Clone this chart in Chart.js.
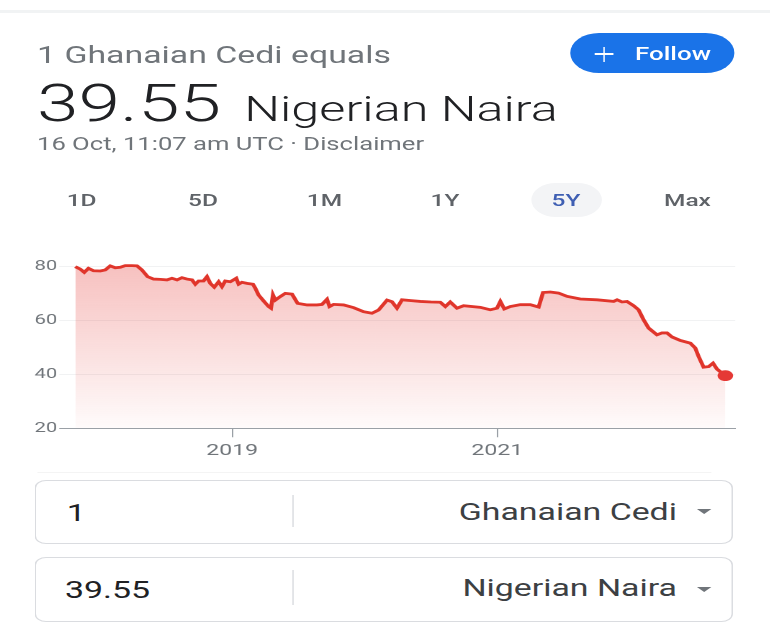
<!DOCTYPE html>
<html>
<head>
<meta charset="utf-8">
<script src="https://cdn.jsdelivr.net/npm/chart.js@4.4.1/dist/chart.umd.min.js"></script>
<style>
  html, body { margin: 0; padding: 0; background: #ffffff; overflow: hidden; }
  body { width: 770px; height: 632px; position: relative; font-family: Roboto, "Noto Sans", Arial, sans-serif; }
  #page { position: absolute; left: 0; top: 0; width: 534.7px; height: 632px; transform: scaleX(1.44); transform-origin: 0 0; }
  .a { position: absolute; white-space: nowrap; }
  .t { line-height: 1; }
  .tab { position: absolute; width: 60px; text-align: center; font-size: 17px; font-weight: 500; color: #5f6368; line-height: 1; top: 191.7px; }
  .box { position: absolute; left: 24.3px; width: 484.7px; box-sizing: border-box; border: 1px solid #dadce0; border-radius: 8px; background: #fff; }
  .vdiv { position: absolute; left: 202.6px; width: 1px; background: #dadce0; }
  .arrow { position: absolute; left: 484px; width: 0; height: 0; border-left: 5.5px solid transparent; border-right: 5.5px solid transparent; border-top: 5px solid #70757a; }
  #chartWrap { position: absolute; left: 20.83px; top: 250px; width: 495px; height: 220px; }
</style>
</head>
<body>
<div id="page">
  <div class="a" style="left:0;top:10px;width:534.7px;height:3px;background:#f1f3f4;"></div>

  <div class="a t" style="left:25.7px;top:43.5px;font-size:23.5px;color:#70757a;">1 Ghanaian Cedi equals</div>
  <div class="a t" style="left:25.7px;top:77.9px;font-size:52px;font-weight:300;color:#202124;">39.55</div>
  <div class="a t" style="left:169.6px;top:92.2px;font-size:35px;font-weight:300;color:#202124;">Nigerian Naira</div>
  <div class="a t" style="left:25.7px;top:135px;font-size:17.8px;color:#70757a;">16 Oct, 11:07 am UTC · Disclaimer</div>

  <div class="a" style="left:395.8px;top:33.3px;width:114.6px;height:40px;border-radius:20px;background:#1a73e8;"></div>
  <div class="a" style="left:413.2px;top:53px;width:12.5px;height:2.4px;background:#fff;"></div>
  <div class="a" style="left:418.6px;top:46.7px;width:1.7px;height:15px;background:#fff;"></div>
  <div class="a t" style="left:441px;top:44.8px;font-size:18px;font-weight:500;color:#fff;">Follow</div>

  <div class="a" style="left:369.4px;top:183px;width:48.6px;height:34px;border-radius:17px;background:#f3f4f6;"></div>
  <div class="tab" style="left:26.7px;">1D</div>
  <div class="tab" style="left:111px;">5D</div>
  <div class="tab" style="left:195.3px;">1M</div>
  <div class="tab" style="left:279px;">1Y</div>
  <div class="tab" style="left:363.1px;color:#3f5fb3;">5Y</div>
  <div class="tab" style="left:447.4px;">Max</div>

  <div id="chartWrap"><canvas id="chart"></canvas></div>

  <div class="a" style="left:25.7px;top:472px;width:468px;height:1px;background:#f4f4f4;"></div>

  <div class="box" style="top:480px;height:64px;"></div>
  <div class="vdiv" style="top:495px;height:32px;"></div>
  <div class="a t" style="left:46.3px;top:501.9px;font-size:23.5px;color:#202124;">1</div>
  <div class="a t" style="left:250px;width:220.1px;text-align:right;top:500.9px;font-size:23.5px;color:#3c4043;">Ghanaian Cedi</div>
  <div class="arrow" style="top:509px;"></div>

  <div class="box" style="top:557px;height:65px;"></div>
  <div class="vdiv" style="top:570px;height:35px;"></div>
  <div class="a t" style="left:45.1px;top:578.5px;font-size:23.5px;color:#202124;">39.55</div>
  <div class="a t" style="left:250px;width:220.1px;text-align:right;top:577.2px;font-size:23.5px;color:#3c4043;">Nigerian Naira</div>
  <div class="arrow" style="top:587px;"></div>
</div>

<script>
// ---- Data (decimal year, GHS -> NGN rate) ----
const years = [
  2017.815, 2017.853, 2017.883, 2017.915, 2017.953, 2018.004, 2018.042, 2018.079, 2018.117, 2018.155,
  2018.192, 2018.243, 2018.281, 2018.318, 2018.361, 2018.406, 2018.457, 2018.507, 2018.545, 2018.583,
  2018.620, 2018.658, 2018.696, 2018.721, 2018.746, 2018.783, 2018.809, 2018.834, 2018.864, 2018.897,
  2018.922, 2018.947, 2018.985, 2019.030, 2019.048, 2019.073, 2019.111, 2019.156, 2019.174, 2019.198,
  2019.236, 2019.274, 2019.292, 2019.307, 2019.325, 2019.362, 2019.400, 2019.451, 2019.493, 2019.564,
  2019.639, 2019.677, 2019.715, 2019.734, 2019.765, 2019.840, 2019.915, 2019.991, 2020.054, 2020.104,
  2020.168, 2020.205, 2020.243, 2020.281, 2020.350, 2020.419, 2020.500, 2020.570, 2020.608, 2020.645,
  2020.696, 2020.746, 2020.872, 2020.947, 2020.998, 2021.023, 2021.053, 2021.098, 2021.174, 2021.249,
  2021.312, 2021.345, 2021.400, 2021.462, 2021.526, 2021.626, 2021.753, 2021.878, 2021.904, 2021.941,
  2021.979, 2022.029, 2022.066, 2022.104, 2022.142, 2022.205, 2022.243, 2022.281, 2022.319, 2022.381,
  2022.457, 2022.494, 2022.519, 2022.557, 2022.595, 2022.628, 2022.658, 2022.721
];
const rates = [
  80.0, 79.1, 77.9, 79.4, 78.5, 78.4, 78.8, 80.3, 79.6, 79.8,
  80.4, 80.4, 80.3, 78.8, 76.3, 75.4, 75.3, 75.1, 75.7, 75.1,
  75.9, 75.4, 75.1, 73.5, 74.7, 74.7, 76.3, 73.8, 72.4, 74.4,
  72.6, 74.7, 74.4, 75.7, 73.5, 74.2, 73.8, 73.5, 72.0, 69.5,
  67.3, 65.2, 64.6, 69.5, 67.6, 68.9, 70.1, 69.8, 66.4, 65.8,
  65.8, 66.0, 67.9, 65.2, 66.0, 65.8, 64.8, 63.3, 62.7, 63.9,
  67.6, 67.0, 64.6, 67.7, 67.4, 67.1, 66.9, 66.8, 65.2, 66.9,
  64.6, 65.5, 64.9, 64.0, 64.6, 67.1, 64.3, 65.2, 65.9, 65.9,
  65.0, 70.4, 70.6, 70.2, 69.0, 68.0, 67.7, 67.1, 67.7, 66.9,
  67.1, 65.5, 64.0, 60.3, 57.2, 54.7, 55.4, 55.4, 53.9, 52.6,
  51.6, 49.8, 46.7, 42.7, 42.9, 44.2, 42.0, 39.55
];
const xTickYears = [2019, 2021];
const yTickValues = [20, 40, 60, 80];
const xRange = [2017.815, 2022.796];
const yRange = [20, 82];

const points = years.map((x, i) => ({ x: x, y: rates[i] }));
const lastIndex = points.length - 1;

const ctx = document.getElementById('chart').getContext('2d');
new Chart(ctx, {
  type: 'line',
  data: {
    datasets: [{
      data: points,
      borderColor: '#e0352b',
      borderWidth: 2.8,
      tension: 0,
      fill: 'start',
      backgroundColor: (c) => {
        const chart = c.chart;
        const area = chart.chartArea;
        if (!area) return 'rgba(229,57,53,0.15)';
        const g = chart.ctx.createLinearGradient(0, area.top, 0, area.bottom);
        g.addColorStop(0, 'rgba(229,57,53,0.32)');
        g.addColorStop(1, 'rgba(229,57,53,0.02)');
        return g;
      },
      pointRadius: (c) => c.dataIndex === lastIndex ? 5.4 : 0,
      pointHoverRadius: (c) => c.dataIndex === lastIndex ? 5.4 : 0,
      pointBackgroundColor: '#e53935',
      pointBorderWidth: 0,
      clip: false
    }]
  },
  options: {
    responsive: true,
    maintainAspectRatio: false,
    animation: false,
    devicePixelRatio: 2,
    layout: { padding: { top: 11.3, right: 5.4, left: 0, bottom: 0 } },
    plugins: { legend: { display: false }, tooltip: { enabled: false } },
    scales: {
      x: {
        type: 'linear',
        min: xRange[0],
        max: xRange[1],
        afterBuildTicks: (s) => { s.ticks = xTickYears.map(v => ({ value: v })); },
        afterFit: (s) => { s.height = 41.7; },
        ticks: {
          callback: (v) => String(v),
          color: '#70757a',
          font: { family: 'Roboto', size: 16 },
          padding: 4,
          maxRotation: 0,
          autoSkip: false
        },
        grid: { drawOnChartArea: false, drawTicks: true, tickLength: 9, tickColor: '#9aa0a6', tickWidth: 1 },
        border: { display: true, color: '#9aa0a6', width: 1 }
      },
      y: {
        min: yRange[0],
        max: yRange[1],
        afterBuildTicks: (s) => { s.ticks = yTickValues.map(v => ({ value: v })); },
        afterFit: (s) => { s.width = 31.25; },
        ticks: {
          color: '#70757a',
          font: { family: 'Roboto', size: 14 },
          padding: 1.4
        },
        grid: {
          drawTicks: true,
          tickLength: 11.1,
          color: (c) => (c.tick && c.tick.value === 20) ? '#9aa0a6' : '#f1f2f3',
          lineWidth: 1
        },
        border: { display: false }
      }
    }
  }
});
</script>
</body>
</html>
